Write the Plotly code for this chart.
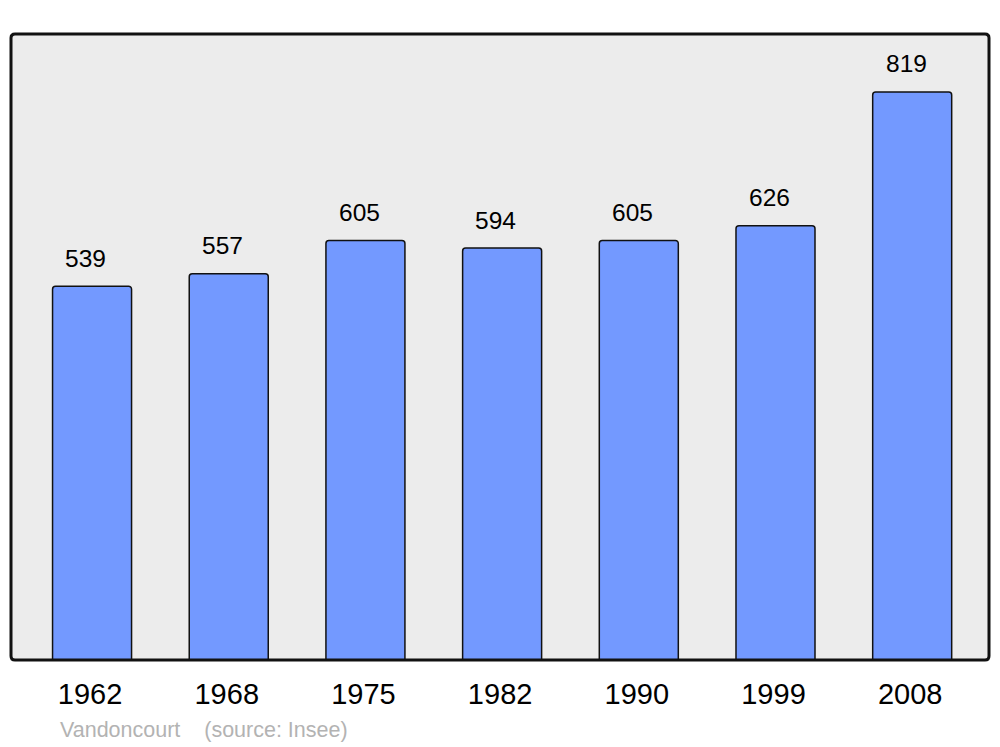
import plotly.graph_objects as go

years = ["1962", "1968", "1975", "1982", "1990", "1999", "2008"]
population = [539, 557, 605, 594, 605, 626, 819]
footer = "Vandoncourt    (source: Insee)"

positions = list(range(len(years)))

fig = go.Figure()
fig.add_trace(go.Bar(
    x=positions, y=population, width=0.578,
    marker=dict(color="#7399ff", line=dict(color="#111111", width=1.5), cornerradius=3),
    hoverinfo="skip",
))

for xi, v in zip(positions, population):
    fig.add_annotation(x=xi - 0.045, y=v, text=str(v), showarrow=False, yanchor="middle",
                       yshift=28, font=dict(family="Liberation Sans, Arial", size=24.5, color="#000"))

fig.add_annotation(xref="paper", yref="paper", x=0.048, y=-0.112, xanchor="left", yanchor="middle",
                   text=footer.replace("    ", "&nbsp;&nbsp;&nbsp;&nbsp;"), showarrow=False,
                   font=dict(family="Liberation Sans, Arial", size=21.5, color="#b3b3b3"))

# frame
rx = 4 / 978
ry = 4 / 626
path = (f"M {rx},0 L {1-rx},0 Q 1,0 1,{ry} L 1,{1-ry} Q 1,1 {1-rx},1 L {rx},1 Q 0,1 0,{1-ry} "
        f"L 0,{ry} Q 0,0 {rx},0 Z")
fig.add_shape(type="path", xref="paper", yref="paper", path=path,
              line=dict(color="#111111", width=3), layer="above")

fig.update_layout(
    width=992, height=739,
    margin=dict(l=3, r=11, t=26, b=87),
    paper_bgcolor="white", plot_bgcolor="#ececec",
    showlegend=False,
    font=dict(family="Liberation Sans, Arial", color="#000"),
)
fig.update_xaxes(range=[-0.593, 6.562], tickvals=positions, ticktext=years, showgrid=False,
                 zeroline=False, ticks="", tickfont=dict(size=29), ticklabelstandoff=14,
                 ticklabelshift=-2)
fig.update_yaxes(range=[0, 902.6], showgrid=False, zeroline=False, showticklabels=False, ticks="")

fig.write_html("out.html")
